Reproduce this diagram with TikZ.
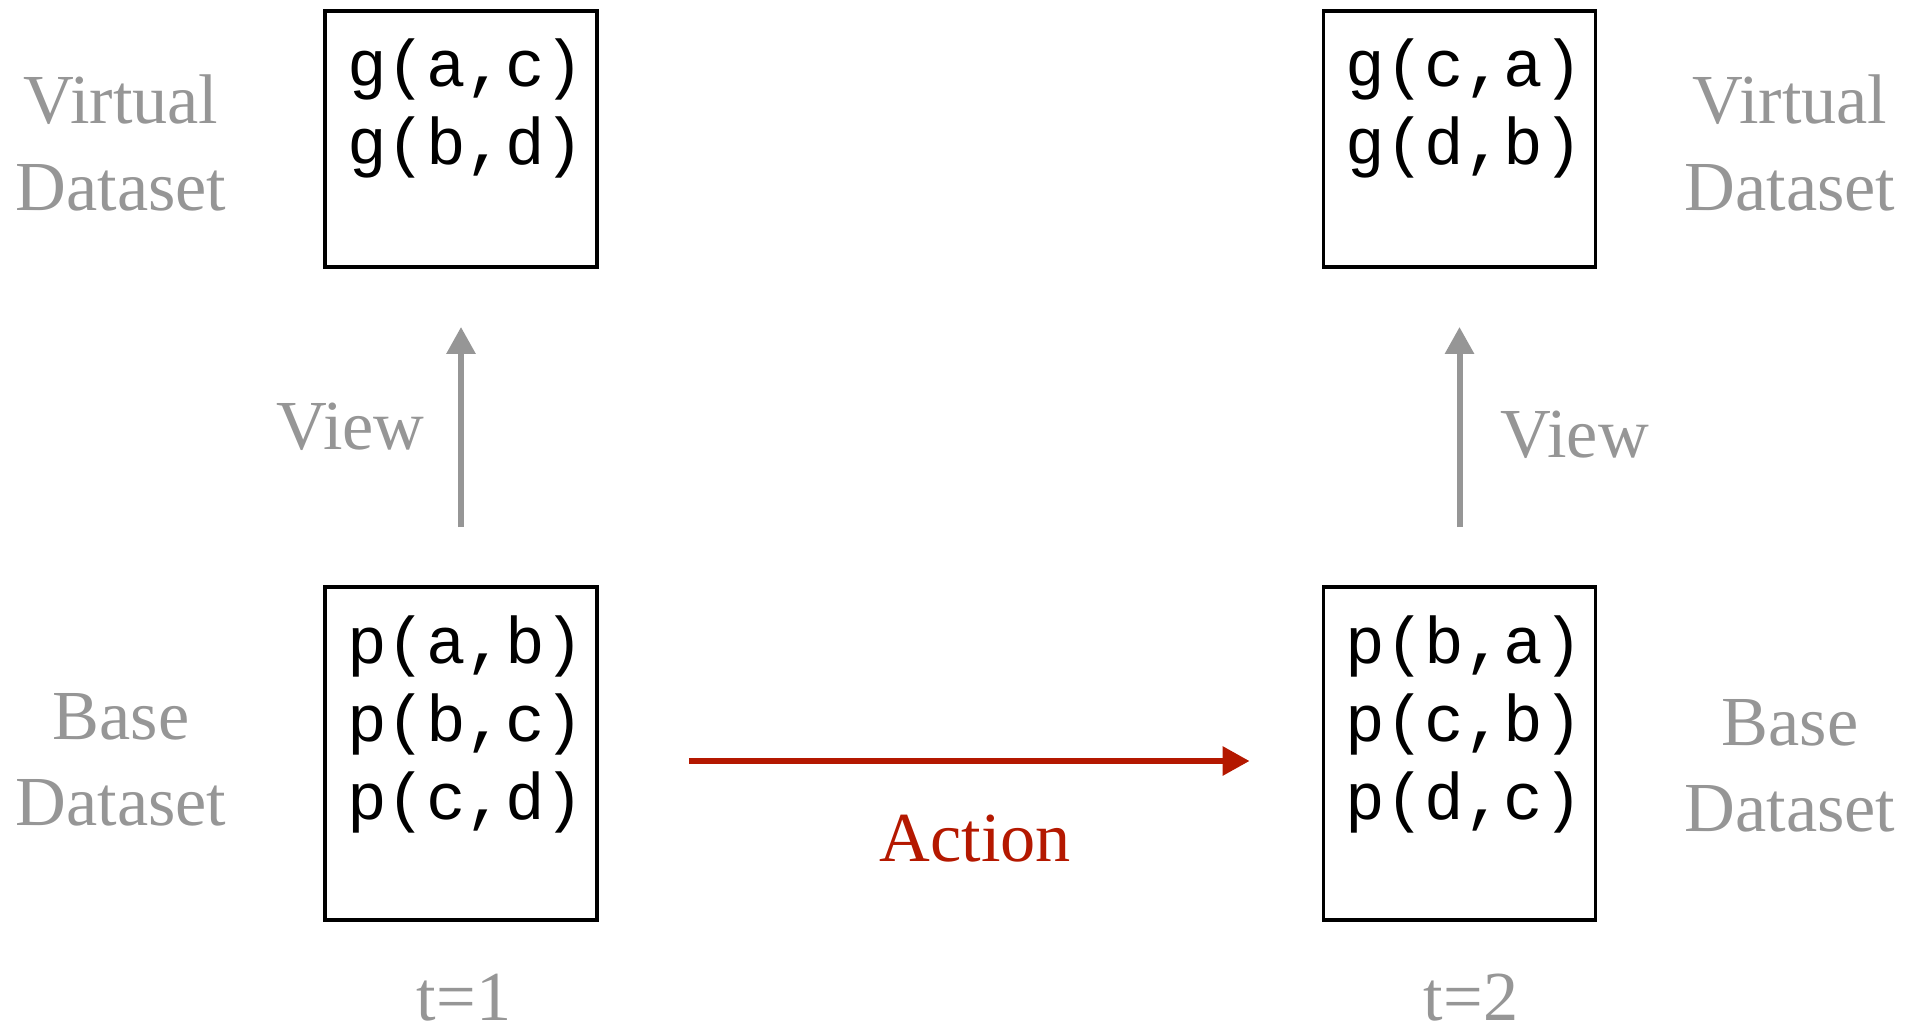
\documentclass[tikz,border=0pt]{standalone}
\usepackage{fontspec}
\setmainfont{Liberation Serif}
\setmonofont{Liberation Mono}
\usetikzlibrary{arrows.meta, positioning}
\definecolor{labelgray}{HTML}{969696}
\definecolor{actionred}{HTML}{B41800}

\begin{document}
\begin{tikzpicture}[
    >={Triangle[length=0.54cm, width=0.56cm]},
    line width=3.4pt,
    font=\fontsize{40}{49}\selectfont,
    store/.style={draw=black, line width=2.2pt, minimum width=5.44cm, minimum height=#1, inner sep=0pt},
    facts/.style={anchor=north west, align=left, inner sep=0pt, font=\ttfamily\fontsize{37.5}{44.4}\selectfont},
    side/.style={labelgray, align=center},
    viewarrow/.style={->, labelgray, shorten <=1.16cm, shorten >=1.16cm}
]
    \useasboundingbox (0,0) rectangle (38.42,-20.64);

    % 1. Datasets at t=1 (left)
    \node[store=5.12cm] (virt1) at (9.22,-2.78) {};
    \node[store=6.66cm] (base1) at (9.22,-15.07) {};
    \node[facts] (virt1txt) at ([xshift=0.42cm, yshift=-0.54cm]virt1.north west) {g(a,c)\\g(b,d)};
    \node[facts] (base1txt) at ([xshift=0.42cm, yshift=-0.56cm]base1.north west) {p(a,b)\\p(b,c)\\p(c,d)};

    % 2. Datasets at t=2 (right)
    \node[store=5.12cm] (virt2) at (29.19,-2.78) {};
    \node[store=6.66cm] (base2) at (29.19,-15.07) {};
    \node[facts] (virt2txt) at ([xshift=0.42cm, yshift=-0.54cm]virt2.north west) {g(c,a)\\g(d,b)};
    \node[facts] (base2txt) at ([xshift=0.42cm, yshift=-0.56cm]base2.north west) {p(b,a)\\p(c,b)\\p(d,c)};

    % Side labels
    \node[side] (virt1lbl) at (2.42,-2.86) {Virtual\\Dataset};
    \node[side] (base1lbl) at (2.42,-15.2) {Base\\Dataset};
    \node[side] (virt2lbl) at (35.8,-2.86) {Virtual\\Dataset};
    \node[side] (base2lbl) at (35.8,-15.32) {Base\\Dataset};

    % Time stamps
    \node[labelgray] (time1) at (9.28,-19.95) {t=1};
    \node[labelgray] (time2) at (29.42,-19.95) {t=2};

    % 3. Views (base -> virtual)
    \draw[viewarrow] (base1) -- (virt1) node[midway, left=0.55cm, labelgray] {View};
    \draw[viewarrow] (base2) -- (virt2) node[midway, right=0.65cm, yshift=-0.15cm, labelgray] {View};

    % 4. Action (t=1 -> t=2)
    \draw[->, actionred, shorten <=1.8cm, shorten >=1.44cm] ([yshift=-0.15cm]base1.east) -- ([yshift=-0.15cm]base2.west) node[midway, xshift=0.3cm, yshift=-1.56cm] {Action};

\end{tikzpicture}
\end{document}
